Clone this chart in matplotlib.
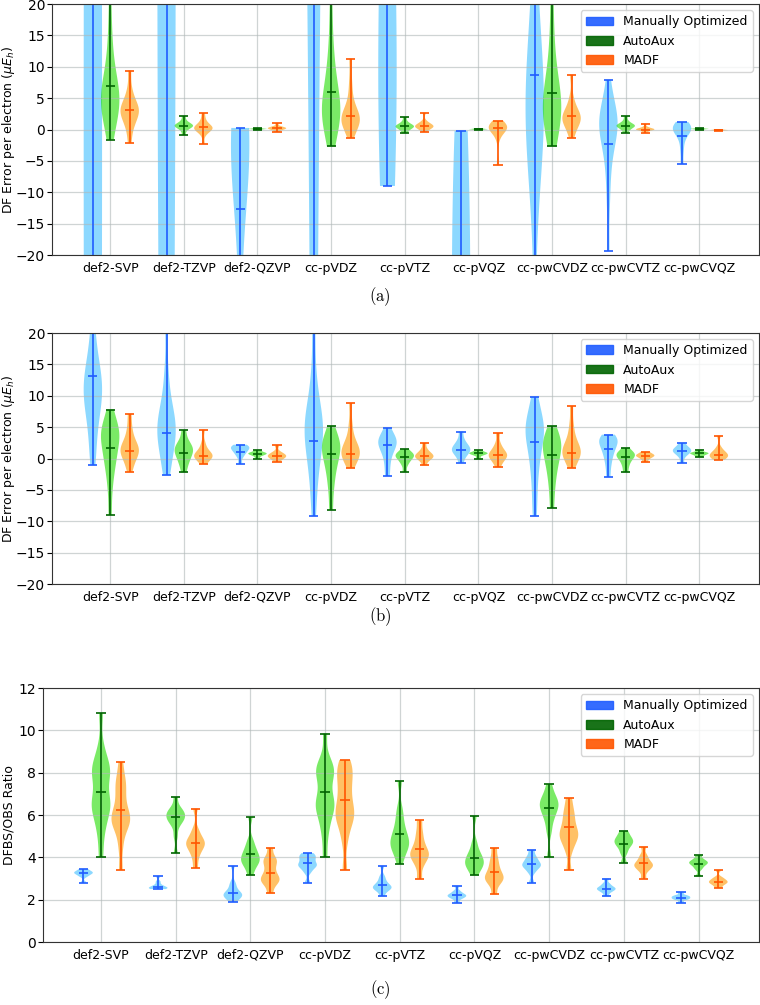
import numpy as np
import matplotlib
matplotlib.use("Agg")
import matplotlib.pyplot as plt
from matplotlib import cbook, mlab
from matplotlib.patches import Patch

basis_sets = ["def2-SVP", "def2-TZVP", "def2-QZVP", "cc-pVDZ", "cc-pVTZ",
              "cc-pVQZ", "cc-pwCVDZ", "cc-pwCVTZ", "cc-pwCVQZ"]
series_names = ["Manually Optimized", "AutoAux", "MADF"]

# ---------------- panel (a): DF error per electron, original fitting sets ----------
a_manual = [
    [-300, -150, -80, -40, -10, 10, 40, 90, 160, 300, 600],
    [-250, -120, -50, -15, 10, 40, 70, 100, 140, 200, 320],
    [0.25, 0.2, 0.1, 0.0, -0.2, -0.5, -1, -1.5, -2.5, -4, -6, -9, -14, -25, -45, -80],
    [-150, -40, 30, 60, 80, 100, 120, 150, 200, 300],
    [-9, -5, 0, 5, 10, 20, 30, 45, 60, 80, 110, 150],
    [-0.2, -6, -15, -25, -35, -45, -55, -65, -80, -100, -130],
    [-60, -25, -8, -3, -1, 0, 1, 2, 3, 4, 5, 6, 8, 11, 15, 22, 35, 60],
    [-19.3, -12, -8, -5, -3, -1.5, -0.5, 0, 0.5, 1, 1.5, 2, 2.5, 3.5, 5, 7.9],
    [-5.5, -3.5, -2, -1, -0.5, -0.2, 0, 0.2, 0.4, 0.6, 0.9, 1.2],
]
a_manual_means = [45.0, 60.0, -12.7, 70.0, 35.0, -55.0, 8.7, -2.3, -1.0]

a_autoaux = [
    [-1.6, 0.5, 2, 3, 3.5, 4, 4.5, 5, 5.5, 6, 7, 8, 9.5, 12, 15, 20, 28],
    [-0.9, -0.2, 0.2, 0.4, 0.5, 0.6, 0.7, 0.8, 1.0, 1.4, 2.1],
    [0.0, 0.05, 0.1, 0.1, 0.15, 0.2],
    [-2.7, -1, 0.5, 1.5, 2, 2.5, 3, 3.5, 4, 5, 6, 7.5, 9, 11, 14, 19, 26],
    [-0.6, -0.2, 0.1, 0.3, 0.4, 0.5, 0.6, 0.7, 0.9, 1.3, 2.0],
    [-0.05, 0.0, 0.05, 0.05, 0.1, 0.15],
    [-2.7, -1, 0.5, 1.5, 2.5, 3, 3.5, 4, 4.5, 5.5, 6.5, 8, 10, 13, 17, 23, 30],
    [-0.5, -0.1, 0.2, 0.4, 0.5, 0.6, 0.7, 0.8, 1.0, 1.4, 2.1],
    [0.0, 0.05, 0.1, 0.1, 0.15, 0.2],
]
a_autoaux_means = [7.0, 0.6, 0.1, 5.9, 0.5, 0.05, 5.8, 0.6, 0.1]

a_madf = [
    [-2.1, 0, 1, 1.8, 2.3, 2.7, 3, 3.3, 3.7, 4.2, 5, 6.5, 9.4],
    [-2.3, -0.8, -0.3, 0, 0.1, 0.2, 0.3, 0.4, 0.6, 1.0, 1.6, 2.6],
    [-0.4, -0.1, 0.05, 0.15, 0.2, 0.25, 0.35, 0.5, 1.0],
    [-1.3, 0, 0.7, 1.1, 1.4, 1.6, 1.9, 2.2, 2.7, 3.5, 5, 7.5, 11.3],
    [-0.4, 0.1, 0.3, 0.4, 0.5, 0.6, 0.7, 0.9, 1.3, 2.7],
    [-5.7, -1.5, -0.3, 0, 0.15, 0.25, 0.35, 0.45, 0.6, 0.9, 1.4],
    [-1.3, 0, 0.7, 1.2, 1.5, 1.8, 2.1, 2.4, 2.9, 3.6, 5, 8.7],
    [-0.5, -0.2, -0.1, 0, 0, 0.05, 0.1, 0.2, 0.4, 0.9],
    [-0.2, -0.15, -0.1, -0.1, -0.05, 0.0],
]
a_madf_means = [3.1, 0.4, 0.2, 2.1, 0.6, 0.3, 2.2, 0.0, -0.1]

# ---------------- panel (b): DF error per electron ----------
b_manual = [
    [-1.1, 2, 4.5, 6.5, 8, 9, 10, 11, 12, 13, 14, 15.5, 17.5, 21],
    [-2.7, -0.5, 1, 2.5, 3.5, 4.5, 5, 5.5, 6.5, 8, 10, 14, 22],
    [-0.8, 0.2, 0.7, 1.0, 1.3, 1.5, 1.7, 1.9, 2.0, 2.2],
    [-9.2, -5, -2, 0, 1.5, 3, 4, 5, 5.5, 6.5, 8, 10, 14, 21],
    [-2.8, -1, 0.5, 1.3, 2, 2.4, 2.8, 3.2, 3.7, 4.8],
    [-0.7, 0.3, 0.8, 1.1, 1.4, 1.6, 1.9, 2.3, 3.0, 4.3],
    [-9.2, -6, -3, -1, 0.5, 2, 3, 4, 4.5, 5, 5.5, 6.5, 8, 9.8],
    [-2.9, -1.2, 0, 0.8, 1.5, 2.0, 2.5, 2.8, 3.1, 3.4, 3.8],
    [-0.7, 0.3, 0.8, 1.0, 1.2, 1.4, 1.6, 1.9, 2.5],
]
b_manual_means = [13.1, 4.0, 1.1, 2.8, 2.2, 1.4, 2.6, 1.5, 1.2]

b_autoaux = [
    [-9, -5, -2.5, -1, 0, 1, 2, 3, 3.5, 4, 4.5, 5, 6, 7.8],
    [-2.2, -1, -0.3, 0.3, 0.8, 1.2, 1.5, 1.8, 2.3, 3, 4.5],
    [0.0, 0.4, 0.6, 0.7, 0.8, 0.9, 1.0, 1.3],
    [-8.2, -5, -3, -1.5, -0.5, 0.5, 1.2, 1.8, 2.3, 2.8, 3.5, 5.2],
    [-2.2, -1, -0.4, 0, 0.3, 0.5, 0.7, 0.9, 1.5],
    [0.0, 0.5, 0.7, 0.8, 0.9, 1.0, 1.3],
    [-7.9, -5, -3, -1.5, -0.5, 0.5, 1.3, 2, 2.5, 3, 3.7, 5.2],
    [-2.2, -1.2, -0.5, 0, 0.3, 0.6, 0.8, 1.0, 1.7],
    [0.2, 0.5, 0.7, 0.8, 0.9, 1.0, 1.4],
]
b_autoaux_means = [1.7, 0.9, 0.7, 0.7, 0.3, 0.8, 0.6, 0.3, 0.8]

b_madf = [
    [-2.1, -0.8, 0, 0.6, 1.0, 1.3, 1.6, 2.0, 2.6, 3.5, 5, 7.1],
    [-0.9, -0.2, 0.1, 0.3, 0.4, 0.5, 0.7, 1.0, 1.6, 2.5, 4.6],
    [-0.5, 0, 0.2, 0.35, 0.5, 0.7, 1.0, 2.1],
    [-1.5, -0.5, 0.1, 0.5, 0.8, 1.1, 1.4, 1.8, 2.5, 3.5, 5.5, 8.8],
    [-1.1, -0.3, 0, 0.2, 0.35, 0.5, 0.7, 1.0, 1.5, 2.5],
    [-1.4, -0.5, 0, 0.3, 0.5, 0.7, 1.0, 1.5, 2.3, 4.0],
    [-1.5, -0.5, 0.2, 0.6, 0.9, 1.2, 1.5, 2.0, 2.7, 3.8, 5.5, 8.3],
    [-0.6, -0.1, 0.2, 0.35, 0.5, 0.6, 0.8, 1.1],
    [-0.2, 0.1, 0.3, 0.45, 0.6, 0.8, 1.1, 1.7, 3.6],
]
b_madf_means = [1.2, 0.4, 0.4, 0.7, 0.4, 0.5, 0.8, 0.4, 0.6]

# ---------------- panel (c): DFBS/OBS size ratio ----------
c_manual = [
    [2.8, 3.1, 3.2, 3.25, 3.3, 3.35, 3.45],
    [2.5, 2.52, 2.55, 2.58, 2.62, 2.7, 2.85, 3.1],
    [1.9, 2.05, 2.15, 2.2, 2.25, 2.3, 2.4, 2.6, 2.8, 3.6],
    [2.8, 3.3, 3.5, 3.6, 3.65, 3.75, 3.9, 4.0, 4.1, 4.2],
    [2.15, 2.4, 2.5, 2.55, 2.6, 2.65, 2.75, 2.9, 3.1, 3.6],
    [1.85, 2.05, 2.12, 2.18, 2.22, 2.28, 2.4, 2.65],
    [2.8, 3.3, 3.5, 3.6, 3.65, 3.75, 3.9, 4.05, 4.35],
    [2.15, 2.35, 2.45, 2.5, 2.55, 2.62, 2.75, 3.0],
    [1.85, 2.0, 2.05, 2.1, 2.15, 2.2, 2.35],
]
c_manual_means = [3.25, 2.6, 2.3, 3.75, 2.7, 2.2, 3.7, 2.5, 2.1]

c_autoaux = [
    [4.0, 5.0, 5.6, 6.0, 6.3, 6.5, 6.6, 6.8, 7.3, 7.8, 8.0, 8.1, 8.3, 8.6, 9.2, 10.8],
    [4.2, 5.0, 5.5, 5.7, 5.8, 5.9, 6.0, 6.1, 6.2, 6.35, 6.85],
    [3.15, 3.5, 3.7, 3.8, 3.9, 4.0, 4.15, 4.3, 4.5, 4.8, 5.9],
    [4.0, 5.0, 5.6, 6.0, 6.3, 6.5, 6.6, 6.8, 7.3, 7.8, 8.0, 8.1, 8.3, 8.6, 9.85],
    [3.7, 4.2, 4.4, 4.6, 4.7, 4.9, 5.1, 5.4, 5.8, 6.3, 7.6],
    [3.15, 3.45, 3.6, 3.7, 3.8, 3.95, 4.1, 4.3, 4.7, 5.95],
    [4.0, 5.2, 5.7, 6.0, 6.2, 6.4, 6.5, 6.6, 6.8, 7.0, 7.45],
    [3.75, 4.2, 4.45, 4.6, 4.7, 4.8, 4.9, 5.05, 5.25],
    [3.1, 3.45, 3.6, 3.7, 3.75, 3.8, 3.9, 4.1],
]
c_autoaux_means = [7.1, 5.9, 4.15, 7.1, 5.1, 3.95, 6.35, 4.65, 3.7]

c_madf = [
    [3.4, 4.5, 5.2, 5.5, 5.7, 5.8, 5.9, 6.1, 6.4, 6.8, 7.2, 7.5, 7.8, 8.5],
    [3.5, 4.0, 4.3, 4.5, 4.6, 4.7, 4.8, 5.0, 5.3, 6.3],
    [2.3, 2.7, 2.85, 2.95, 3.05, 3.2, 3.45, 3.7, 3.85, 4.0, 4.45],
    [3.4, 4.8, 5.5, 5.8, 6.0, 6.2, 6.5, 6.9, 7.3, 7.7, 8.0, 8.3, 8.6],
    [3.0, 3.6, 3.9, 4.05, 4.15, 4.3, 4.5, 4.8, 5.2, 5.75],
    [2.25, 2.7, 2.9, 3.0, 3.1, 3.25, 3.45, 3.7, 4.0, 4.45],
    [3.4, 4.3, 4.7, 4.9, 5.05, 5.2, 5.4, 5.7, 6.0, 6.3, 6.8],
    [3.0, 3.35, 3.5, 3.6, 3.65, 3.75, 3.9, 4.1, 4.5],
    [2.55, 2.7, 2.78, 2.83, 2.88, 2.95, 3.05, 3.4],
]
c_madf_means = [6.25, 4.7, 3.25, 6.7, 4.4, 3.3, 5.45, 3.75, 2.85]

# ---------------- styling ----------
line_colors = ["#1f5cff", "#006400", "#ff5500"]
body_colors = ["#00aaff", "#22dd00", "#ff9900"]
body_alphas = [0.45, 0.6, 0.6]
offsets = [-0.235, 0.0, 0.265]
FS = 9

plt.rcParams["font.family"] = ["DejaVu Sans"]
plt.rcParams["mathtext.fontset"] = "dejavusans"


def draw_panel(ax, series, means, ylim, yticks, ylabel, bw, label_x):
    def kde(X, coords):
        return mlab.GaussianKDE(X, bw).evaluate(coords)

    base = np.arange(len(basis_sets))
    for k, (samples, mvals) in enumerate(zip(series, means)):
        stats = []
        for s, m in zip(samples, mvals):
            st = cbook.violin_stats([np.asarray(s, float)], kde, points=200)[0]
            st["mean"] = m
            stats.append(st)
        parts = ax.violin(stats, positions=base + offsets[k], widths=0.25,
                          showmeans=True, showextrema=True)
        for b in parts["bodies"]:
            b.set_facecolor(body_colors[k])
            b.set_edgecolor("none")
            b.set_alpha(body_alphas[k])
        for key in ("cbars", "cmins", "cmaxes", "cmeans"):
            parts[key].set_color(line_colors[k])
            parts[key].set_linewidth(1.2)
    ax.set_xticks(base)
    ax.set_xticklabels(basis_sets, fontsize=FS)
    ax.tick_params(axis="x", length=0, pad=5)
    ax.set_xlim(-0.79, 8.81)
    ax.set_ylim(*ylim)
    ax.set_yticks(yticks)
    ax.tick_params(axis="y", labelsize=10, pad=1.5, length=3.5)
    ax.set_ylabel(ylabel, fontsize=FS)
    ax.yaxis.set_label_coords(label_x, 0.5)
    ax.grid(True, color="#b0b8b8", linewidth=0.9, alpha=0.6)
    for sp in ax.spines.values():
        sp.set_color("#333333")
    handles = [Patch(facecolor=c, edgecolor=c, alpha=0.9) for c in line_colors]
    ax.legend(handles, series_names, loc="upper right", fontsize=FS,
              handlelength=2.2, framealpha=0.8)


fig = plt.figure(figsize=(7.6, 10.05), dpi=100)
H = 1005.0
W = 760.0

ax_a = fig.add_axes([52 / W, 1 - 255 / H, 707 / W, 251 / H])
ax_b = fig.add_axes([52 / W, 1 - 584 / H, 707 / W, 251 / H])
ax_c = fig.add_axes([43 / W, 1 - 942 / H, 716 / W, 254 / H])

err_label = r"DF Error per electron ($\mu E_h$)"
err_ticks = np.arange(-20, 21, 5)
draw_panel(ax_a, [a_manual, a_autoaux, a_madf],
           [a_manual_means, a_autoaux_means, a_madf_means],
           (-20, 20), err_ticks, err_label, 0.45, (17 - 52) / 707)
draw_panel(ax_b, [b_manual, b_autoaux, b_madf],
           [b_manual_means, b_autoaux_means, b_madf_means],
           (-20, 20), err_ticks, err_label, 0.45, (17 - 52) / 707)
draw_panel(ax_c, [c_manual, c_autoaux, c_madf],
           [c_manual_means, c_autoaux_means, c_madf_means],
           (0, 12), np.arange(0, 13, 2), "DFBS/OBS Ratio", 0.33, (16 - 43) / 716)
ax_c.set_xlim(-0.777, 8.81)

for lab, ypix in (("(a)", 297), ("(b)", 617), ("(c)", 990)):
    fig.text(380 / W, 1 - ypix / H, r"$\mathrm{%s}$" % lab, ha="center",
             va="center", fontsize=12, math_fontfamily="cm")

fig.savefig("out.png", dpi=100)
